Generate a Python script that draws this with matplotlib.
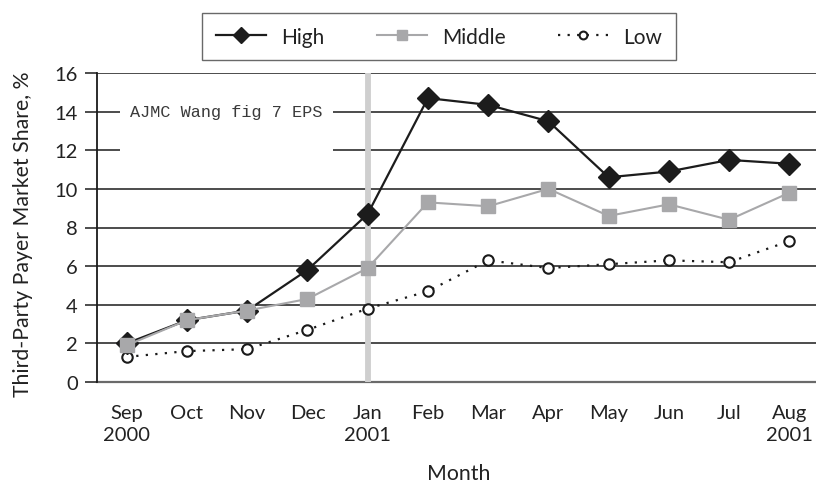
import matplotlib
matplotlib.use("Agg")
import matplotlib.pyplot as plt
from matplotlib.patches import Rectangle

months = ["Sep\n2000", "Oct", "Nov", "Dec", "Jan\n2001", "Feb", "Mar", "Apr",
          "May", "Jun", "Jul", "Aug\n2001"]
high = [2.0, 3.2, 3.7, 5.8, 8.7, 14.7, 14.35, 13.5, 10.6, 10.9, 11.5, 11.3]
middle = [1.9, 3.2, 3.7, 4.3, 5.9, 9.3, 9.1, 10.0, 8.6, 9.2, 8.4, 9.8]
low = [1.3, 1.6, 1.7, 2.7, 3.8, 4.7, 6.3, 5.9, 6.1, 6.3, 6.2, 7.3]
yticks = [0, 2, 4, 6, 8, 10, 12, 14, 16]
series_names = ["High", "Middle", "Low"]
marker_month = "Jan\n2001"
note = "AJMC Wang fig 7 EPS"

plt.rcParams['font.family'] = ['Lato', 'DejaVu Sans']

W, H = 816, 485
fig = plt.figure(figsize=(W / 100, H / 100), dpi=100)
left_px, right_px, top_px, bot_px = 96.6, 819.5, 74, 383
ax = fig.add_axes([left_px / W, 1 - bot_px / H, (right_px - left_px) / W, (bot_px - top_px) / H])

x = list(range(len(months)))
ax.set_xlim(-0.5, len(months) - 0.5)
ax.set_ylim(0, 16)

grid_c = '#2e2e2e'
for yv in yticks:
    if yv == 0:
        ax.axhline(yv, color='#6a6a6a', lw=1.6, zorder=1, clip_on=False)
    else:
        ax.axhline(yv, color=grid_c, lw=1.2, zorder=1)

# vertical reference bar
ax.axvline(months.index(marker_month), color='#cfcfcf', lw=4.2, zorder=2)

# white note box
ax.add_patch(Rectangle((-0.11, 11.75), 3.53, 3.0, facecolor='white', edgecolor='none', zorder=3))
ax.text(0.06, 14, note, family=['Liberation Mono', 'DejaVu Sans Mono'], fontsize=12.2,
        va='center', ha='left', color='#3a3a3a', zorder=4)

ax.plot(x, low, color='#1a1a1a', lw=1.6, ls=(0, (1, 3.3)), marker='o', ms=7.5,
        mfc='white', mec='#1a1a1a', mew=1.5, zorder=5, label=series_names[2])
ax.plot(x, high, color='#1c1c1c', lw=1.6, marker='D', ms=11, mfc='#1c1c1c',
        mec='#1c1c1c', zorder=6, label=series_names[0])
ax.plot(x, middle, color='#a8a8aa', lw=1.5, marker='s', ms=10.5, mfc='#a8a8aa',
        mec='#a8a8aa', zorder=7, label=series_names[1])

for s in ['top', 'right', 'bottom']:
    ax.spines[s].set_visible(False)
ax.spines['left'].set_color('#1a1a1a')
ax.spines['left'].set_linewidth(1.3)

ax.set_yticks(yticks)
ax.set_yticklabels([str(v) for v in yticks], fontsize=14.5, color='#222222')
ax.tick_params(axis='y', length=8.6, width=1.2, color=grid_c, pad=5.0)
ax.set_xticks(x)
ax.set_xticklabels(months, fontsize=14.5, color='#222222', linespacing=1.4)
ax.tick_params(axis='x', length=0, pad=15.5)

fig.text(23 / W, 1 - 234 / H, "Third-Party Payer Market Share, %", rotation=90,
         ha='center', va='center', fontsize=15.3, color='#222222')
fig.text(459 / W, 1 - 480 / H, "Month", ha='center', va='baseline', fontsize=15.3, color='#222222')

handles, labels = ax.get_legend_handles_labels()
order = [1, 2, 0]
leg = fig.legend([handles[i] for i in order], [labels[i] for i in order],
                 loc='upper left', bbox_to_anchor=(202 / W, 1 - 14 / H), ncol=3,
                 fontsize=15, frameon=True, fancybox=False, edgecolor='#444444',
                 handlelength=2.4, handletextpad=0.75, columnspacing=2.5,
                 borderpad=0.65, markerscale=0.75, borderaxespad=0)
leg.get_frame().set_linewidth(1.0)
for t in leg.get_texts():
    t.set_color('#222222')

fig.savefig("out.png", dpi=100)
